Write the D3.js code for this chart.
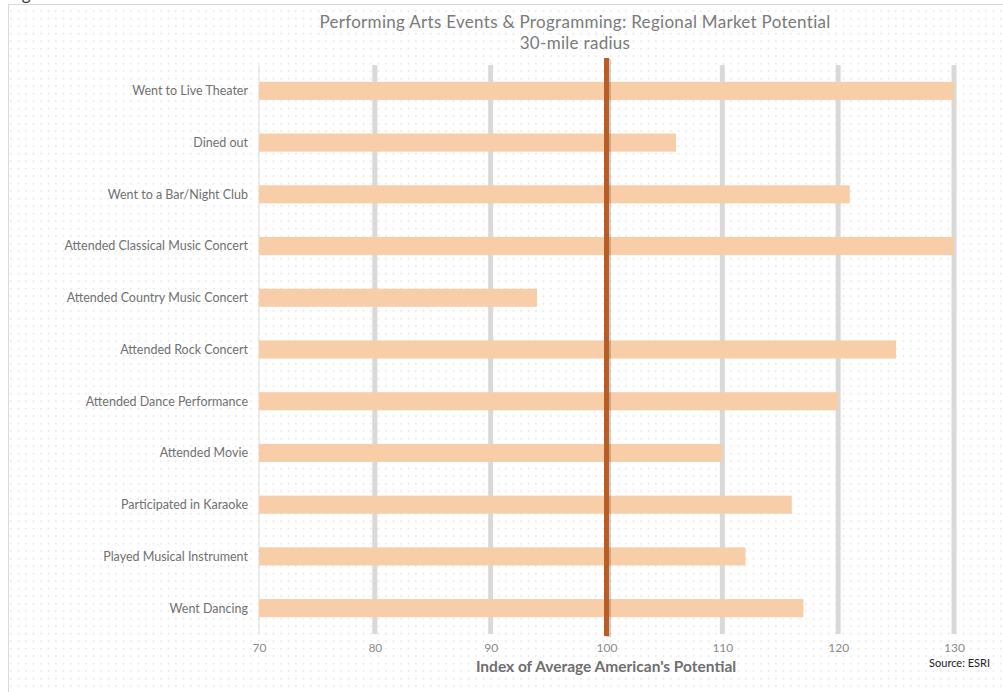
<!DOCTYPE html>
<html>
<head>
<meta charset="utf-8">
<script src="https://cdn.jsdelivr.net/npm/d3@7"></script>
<style>
  html, body { margin: 0; padding: 0; background: #fff; }
  svg { display: block; font-family: "Lato", "Noto Sans", sans-serif; }
</style>
</head>
<body>
<svg id="chart" width="1003" height="692"></svg>
<script>
// Activities and their index relative to the average American (100)
const categories = [
  "Went to Live Theater",
  "Dined out",
  "Went to a Bar/Night Club",
  "Attended Classical Music Concert",
  "Attended Country Music Concert",
  "Attended Rock Concert",
  "Attended Dance Performance",
  "Attended Movie",
  "Participated in Karaoke",
  "Played Musical Instrument",
  "Went Dancing"
];
const values = [130, 106, 121, 130, 94, 125, 120, 110, 116, 112, 117];
const tickValues = [70, 80, 90, 100, 110, 120, 130];
const baseline = 100;

const titleLines = [
  "Performing Arts Events & Programming: Regional Market Potential",
  "30-mile radius"
];
const axisTitle = "Index of Average American's Potential";
const sourceText = "Source: ESRI";

const svg = d3.select("#chart");
const W = 1003, H = 692;

// dotted background
const defs = svg.append("defs");
const pat = defs.append("pattern")
  .attr("id", "dots").attr("patternUnits", "userSpaceOnUse")
  .attr("width", 7.5).attr("height", 7.5);
pat.append("rect").attr("width", 7.5).attr("height", 7.5).attr("fill", "#fff");
pat.append("rect").attr("x", 3).attr("y", 3).attr("width", 1).attr("height", 1.2).attr("fill", "#c8c8c8");

// heading text above the frame, mostly cut off
svg.append("text").attr("x", 8).attr("y", 0).attr("font-size", 17)
  .attr("fill", "#333").text("Figure 6");

svg.append("rect").attr("x", 8.5).attr("y", 4.5).attr("width", W - 8).attr("height", H - 4)
  .attr("fill", "url(#dots)").attr("stroke", "#d9d9d9").attr("stroke-width", 1);

const x = d3.scaleLinear().domain([70, 130]).range([259, 954]);
const y = d3.scaleBand().domain(categories).range([65, 634]).paddingInner(0.65).paddingOuter(0.325);

const plotTop = 65, plotBottom = 634;

// gridlines
svg.append("g").selectAll("line")
  .data(tickValues.filter(d => d !== 70))
  .join("line")
  .attr("x1", d => x(d)).attr("x2", d => x(d))
  .attr("y1", plotTop).attr("y2", plotBottom)
  .attr("stroke", "#d9d9d9").attr("stroke-width", 5);

// category axis line
svg.append("line")
  .attr("x1", x(70)).attr("x2", x(70))
  .attr("y1", plotTop).attr("y2", plotBottom)
  .attr("stroke", "#d9d9d9").attr("stroke-width", 1);

// bars
svg.append("g").selectAll("rect")
  .data(categories)
  .join("rect")
  .attr("x", x(70))
  .attr("y", d => y(d))
  .attr("width", (d, i) => x(values[i]) - x(70))
  .attr("height", y.bandwidth())
  .attr("fill", "#f8cea8");

// category labels
svg.append("g").selectAll("text")
  .data(categories)
  .join("text")
  .attr("x", 248)
  .attr("y", d => y(d) + y.bandwidth() / 2)
  .attr("dy", "0.35em")
  .attr("text-anchor", "end")
  .attr("font-size", 12.5)
  .attr("fill", "#707070")
  .text(d => d);

// value axis
const xAxis = d3.axisBottom(x).tickValues(tickValues).tickSize(0).tickPadding(0);
const gx = svg.append("g").attr("transform", `translate(0, ${plotBottom + 9})`).call(xAxis);
gx.select(".domain").remove();
gx.selectAll("text").attr("font-size", 12).attr("fill", "#8a8a8a")
  .attr("font-family", "Lato, 'Noto Sans', sans-serif");

// reference line at the national average, with a soft shadow on its right
const xb = x(baseline);
svg.append("line")
  .attr("x1", xb + 2).attr("x2", xb + 2)
  .attr("y1", 59).attr("y2", 637)
  .attr("stroke", "#000").attr("stroke-opacity", 0.18).attr("stroke-width", 5);
svg.append("line")
  .attr("x1", xb).attr("x2", xb)
  .attr("y1", 58).attr("y2", 636)
  .attr("stroke", "#bb5d22").attr("stroke-width", 5);

// titles
svg.append("g").selectAll("text")
  .data(titleLines)
  .join("text")
  .attr("x", 575)
  .attr("y", (d, i) => 28 + i * 21)
  .attr("text-anchor", "middle")
  .attr("font-size", 17)
  .attr("letter-spacing", 0.3)
  .attr("fill", "#7a7a7a")
  .text(d => d);

svg.append("text")
  .attr("x", 606).attr("y", 672)
  .attr("text-anchor", "middle")
  .attr("font-size", 15.5).attr("font-weight", "bold")
  .attr("fill", "#6e6e6e")
  .text(axisTitle);

svg.append("text")
  .attr("x", 990).attr("y", 667)
  .attr("text-anchor", "end")
  .attr("font-size", 11)
  .attr("fill", "#222")
  .text(sourceText);
</script>
</body>
</html>
